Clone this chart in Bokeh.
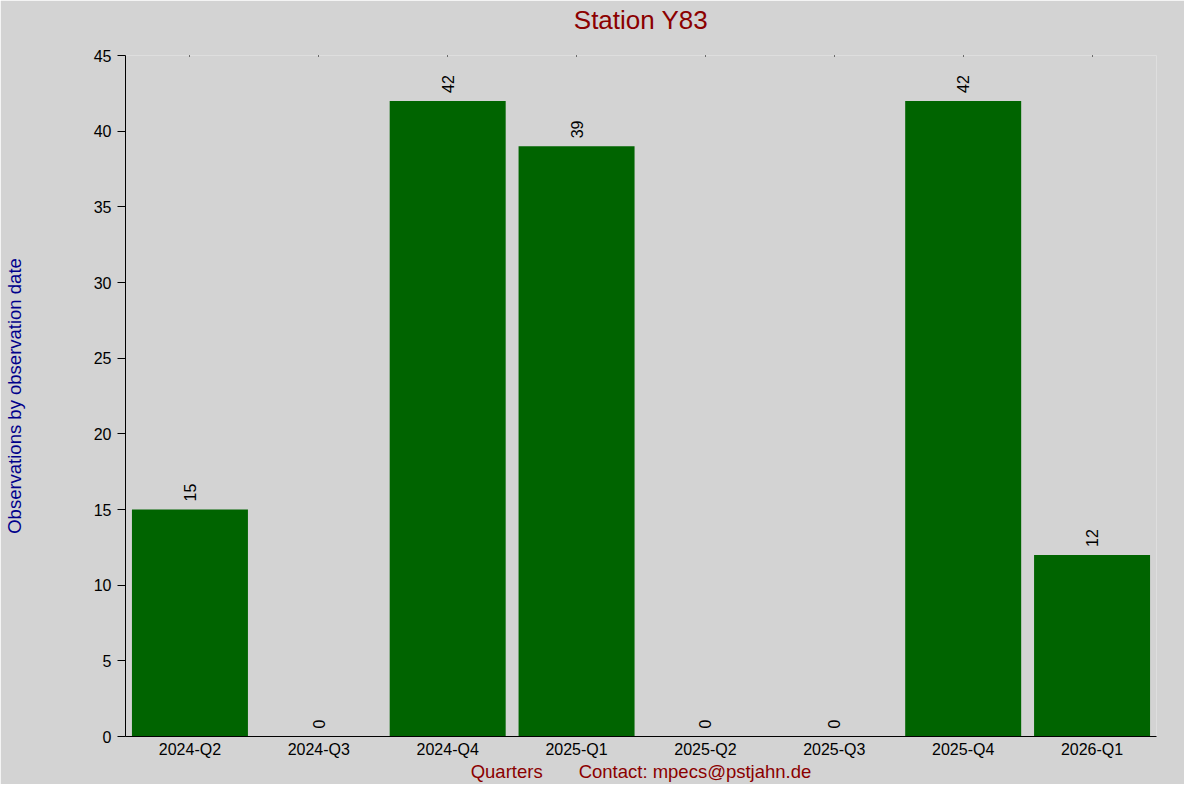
import math
from bokeh.plotting import figure
from bokeh.models import ColumnDataSource, FactorRange, Range1d, FixedTicker, CategoricalAxis, Title
from bokeh.core.properties import value
from bokeh.embed import file_html
from bokeh.resources import INLINE

quarters = ["2024-Q2", "2024-Q3", "2024-Q4", "2025-Q1", "2025-Q2", "2025-Q3", "2025-Q4", "2026-Q1"]
counts = [15, 0, 42, 39, 0, 0, 42, 12]
y_ticks = [0, 5, 10, 15, 20, 25, 30, 35, 40, 45]
title_text = "Station Y83"
y_label = "Observations by observation date"
x_label = "Quarters" + "\u00a0" * 7 + "Contact: mpecs@pstjahn.de"

FONT = "Liberation Sans"
BG = "#d3d3d3"

src = ColumnDataSource(dict(q=quarters, n=counts, lbl=[str(c) for c in counts]))

p = figure(
    width=1184, height=784,
    x_range=FactorRange(*quarters),
    y_range=Range1d(0, 45),
    output_backend="svg", toolbar_location=None,
    min_border_left=124, min_border_right=28, min_border_top=55, min_border_bottom=43,
)
p.background_fill_color = BG
p.border_fill_color = BG
p.outline_line_color = None
p.xgrid.grid_line_color = None
p.ygrid.grid_line_color = None

p.vbar(x="q", top="n", width=0.9, source=src, fill_color="#006400", line_color=None)
p.text(x="q", y="n", text="lbl", source=src, angle=math.pi / 2,
       text_align="left", text_baseline="middle", y_offset=-8,
       text_font=value(FONT), text_font_size="16px", text_color="black")

xax = p.below[0]
yax = p.left[0]

# mirrored x ticks (tiny marks on the top edge), labels not drawn
top_axis = CategoricalAxis(
    axis_line_color=None,
    major_tick_in=1, major_tick_out=0, major_tick_line_color="black",
    major_label_text_color=None,
    major_label_standoff=0,
)
p.add_layout(top_axis, "above")

# built-in title left empty; explicit titles stacked outward from the frame
p.title.text = ""
spacer = Title(text="\u00a0", text_font=FONT, text_font_size="10px", standoff=5)
p.add_layout(spacer, "above")
main_title = Title(text=title_text, align="center", vertical_align="top",
                   text_font=FONT, text_font_size="26px", text_font_style="normal",
                   text_color="#8b0000", standoff=2)
p.add_layout(main_title, "above")

yax.ticker = FixedTicker(ticks=y_ticks)
yax.minor_tick_line_color = None
yax.major_tick_in = 0
yax.major_tick_out = 8
yax.major_label_standoff = 6
yax.major_label_text_font = FONT
yax.major_label_text_font_size = "16px"
yax.major_label_text_color = "black"
yax.axis_line_color = "black"
yax.major_tick_line_color = "black"
yax.axis_label = y_label
yax.axis_label_text_font = FONT
yax.axis_label_text_font_size = "18.5px"
yax.axis_label_text_font_style = "normal"
yax.axis_label_text_color = "#00008b"
yax.axis_label_standoff = 66

xax.major_tick_in = 0
xax.major_tick_out = 0
xax.major_label_standoff = 4
xax.major_label_text_font = FONT
xax.major_label_text_font_size = "16px"
xax.major_label_text_color = "black"
xax.axis_line_color = "black"
xax.axis_label = x_label
xax.axis_label_text_font = FONT
xax.axis_label_text_font_size = "18.5px"
xax.axis_label_text_font_style = "normal"
xax.axis_label_text_color = "#8b0000"
xax.axis_label_standoff = 0

open("out.html", "w").write(file_html(p, INLINE))
